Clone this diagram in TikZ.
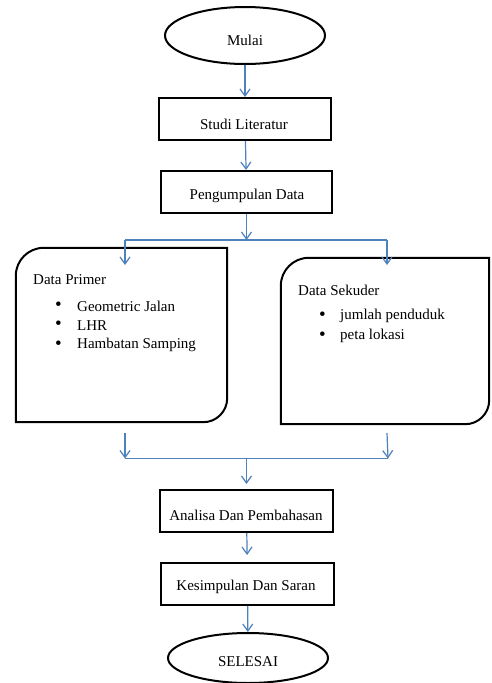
\documentclass[tikz,border=0pt]{standalone}
\usepackage{fontspec}
\setmainfont{Liberation Serif}
\usetikzlibrary{arrows.meta,shapes.geometric}
\definecolor{arrblue}{HTML}{4F81BD}
\begin{document}
\begin{tikzpicture}[x=1pt,y=-1pt,
  txt/.style={font=\fontsize{15}{18}\selectfont},
  procbox/.style={draw=black,line width=2pt,rectangle,inner sep=0pt},
  term/.style={draw=black,line width=2pt,ellipse,inner sep=0pt,minimum width=160pt},
  inlabel/.style={txt,inner sep=0pt,anchor=center},
  panel/.style={rectangle,inner sep=0pt},
  outline/.style={draw=black,line width=2pt},
  arr/.style={draw=arrblue,line width=1.2pt,-{Straight Barb[length=7pt,width=10pt]}},
  conn/.style={draw=arrblue,line width=1.2pt},
  ltext/.style={txt,anchor=west,inner sep=0pt},
  bul/.style={anchor=west,inner sep=0pt,font=\fontsize{19}{20}\selectfont},
]
\useasboundingbox (0,0) rectangle (491,683);
\fill[white] (0,0) rectangle (491,683);

% terminals and process boxes
\node[term,minimum height=57pt] (mulai) at (245,35.5) {};
\node[procbox,minimum width=172pt,minimum height=42pt] (studi) at (245,119) {};
\node[procbox,minimum width=171pt,minimum height=42pt] (kumpul) at (246.5,192) {};
\node[procbox,minimum width=173pt,minimum height=42pt] (analisa) at (246.5,511) {};
\node[procbox,minimum width=173pt,minimum height=42pt] (kesimpulan) at (247.5,584) {};
\node[term,minimum height=50pt] (selesai) at (248,658) {};

\node[inlabel] (mulaitxt) at (245,40) {Mulai};
\node[inlabel] (studitxt) at (244,124.5) {Studi Literatur};
\node[inlabel] (kumpultxt) at (247,196) {Pengumpulan Data};
\node[inlabel] (analisatxt) at (246,515) {Analisa Dan Pembahasan};
\node[inlabel] (kesimpulantxt) at (246,587) {Kesimpulan Dan Saran};
\node[inlabel] (selesaitxt) at (248,662) {SELESAI};

% data panels
\node[panel,minimum width=211pt,minimum height=174pt] (primer) at (121.5,335) {};
\node[panel,minimum width=208pt,minimum height=166pt] (sekunder) at (385,341) {};
\draw[outline] (primer.south) -- (primer.south west) [rounded corners=28pt] -- (primer.north west)
  [sharp corners] -- (primer.north east) [rounded corners=24pt] -- (primer.south east) [sharp corners] -- cycle;
\draw[outline] (sekunder.south) -- (sekunder.south west) [rounded corners=28pt] -- (sekunder.north west)
  [sharp corners] -- (sekunder.north east) [rounded corners=24pt] -- (sekunder.south east) [sharp corners] -- cycle;

% panel texts
\node[ltext] (ptitle) at (33,280) {Data Primer};
\node[bul] (pb1) at (55,306) {\textbullet};
\node[ltext] (pi1) at (77,306) {Geometric Jalan};
\node[bul] (pb2) at (55,325.5) {\textbullet};
\node[ltext] (pi2) at (77,325.5) {LHR};
\node[bul] (pb3) at (55,345) {\textbullet};
\node[ltext] (pi3) at (77,345) {Hambatan Samping};

\node[ltext] (stitle) at (298,290) {Data Sekuder};
\node[bul] (sb1) at (319,316) {\textbullet};
\node[ltext] (si1) at (340,316) {jumlah penduduk};
\node[bul] (sb2) at (319,336) {\textbullet};
\node[ltext] (si2) at (340,336) {peta lokasi};

% branch coordinates
\coordinate (j1) at (246.5,240);
\coordinate (jl1) at (125,240);
\coordinate (jr1) at (387,240);
\coordinate (tl1) at (125,265);
\coordinate (tr1) at (387,265);
\coordinate (sl2) at (125,433);
\coordinate (sr2) at (387,433);
\coordinate (jl2) at (125,458.5);
\coordinate (jr2) at (388,458.5);
\coordinate (j2) at (246.5,458.5);

% connectors
\draw[arr] (mulai) -- (studi);
\draw[arr] (studi) -- (kumpul);
\draw[arr] (kumpul) -- (j1);
\draw[conn] (jl1) -- (jr1);
\draw[arr] (jl1) -- (tl1);
\draw[arr] (jr1) -- (tr1);
\draw[arr] (sl2) -- (jl2);
\draw[arr] (sr2) -- (jr2);
\draw[conn] (jl2) -- (jr2);
\draw[arr,shorten >=5pt] (j2) -- (analisa);
\draw[arr,shorten >=7pt] (analisa) -- (kesimpulan);
\draw[arr] (kesimpulan) -- (selesai);
\end{tikzpicture}
\end{document}
